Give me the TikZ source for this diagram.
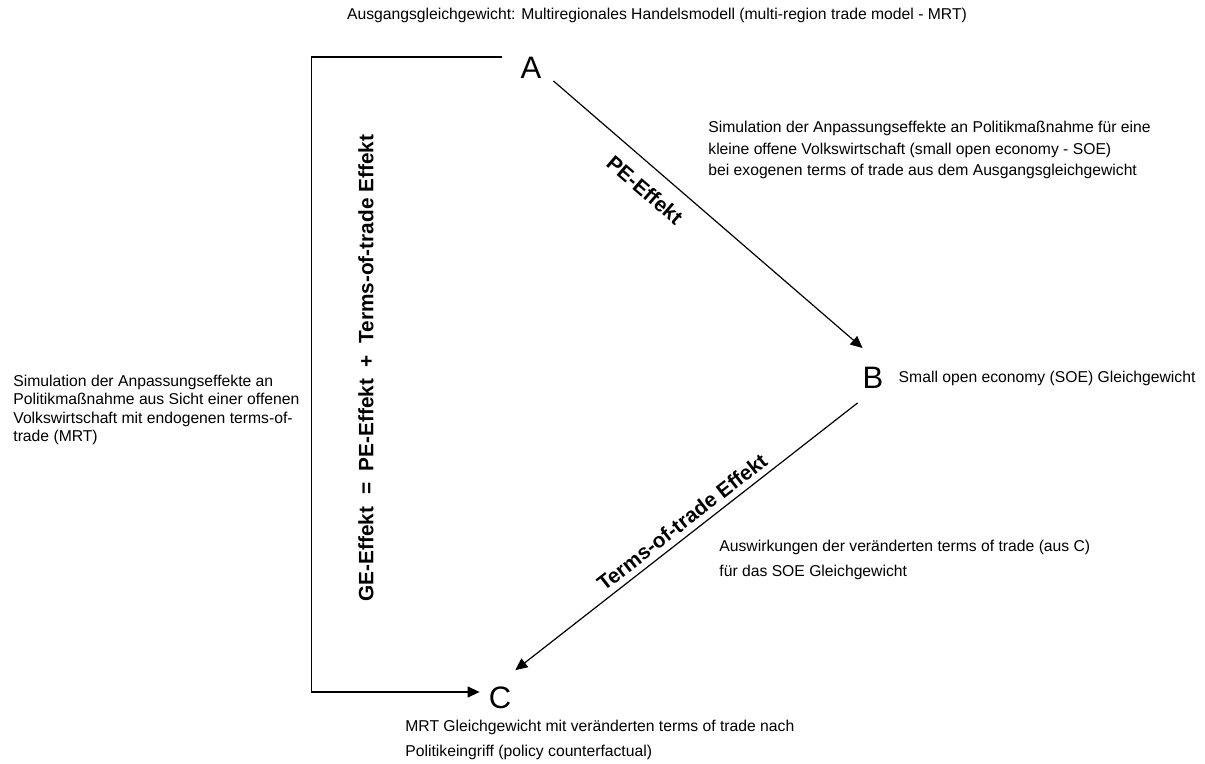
\documentclass[tikz,border=0pt]{standalone}
\usepackage{fontspec}
\setmainfont{Liberation Sans}
\usetikzlibrary{arrows.meta, positioning, calc}
\tikzset{
	letter/.style   ={inner sep=1.5pt, font=\fontsize{15.5}{18}\selectfont},
	note/.style     ={inner sep=0pt, align=left, anchor=west},
	effect/.style   ={inner sep=0pt, font=\fontsize{10.4}{12}\selectfont\bfseries},
	flowarrow/.style={-{Triangle[length=6pt, width=5.5pt]}, line width=0.6pt},
}

\begin{document}
\begin{tikzpicture}[x=0.5pt, y=-0.5pt]
	\useasboundingbox (0,0) rectangle (1205,764);
	% equilibria
	\node[letter] (A) at (531,68) {A};
	\node[letter] (B) at (873,378) {B};
	\node[letter] (C) at (500,698) {C};
	\node[font=\fontsize{7.85}{9.4}\selectfont, inner sep=0pt] (title) at (657,15) {Ausgangsgleichgewicht: Multiregionales Handelsmodell (multi-region trade model - MRT)};
	\node[note, font=\fontsize{7.85}{9.4}\selectfont, right=5.8pt of B] (Bnote) {Small open economy (SOE) Gleichgewicht};
	\node[note, font=\fontsize{7.85}{10.9}\selectfont] (simSOE) at (708,150) {Simulation der Anpassungseffekte an Politikma\ss nahme f\"ur eine\\kleine offene Volkswirtschaft (small open economy - SOE)\\bei exogenen terms of trade aus dem Ausgangsgleichgewicht};
	\node[note, font=\fontsize{7.85}{9.25}\selectfont] (simMRT) at (13,410) {Simulation der Anpassungseffekte an\\Politikma\ss nahme aus Sicht einer offenen\\Volkswirtschaft mit endogenen terms-of-\\trade (MRT)};
	\node[note, font=\fontsize{7.85}{12.5}\selectfont] (totNote) at (719,560) {Auswirkungen der ver\"anderten terms of trade (aus C)\\f\"ur das SOE Gleichgewicht};
	\node[note, font=\fontsize{7.85}{12.5}\selectfont] (Cnote) at (405,740) {MRT Gleichgewicht mit ver\"anderten terms of trade nach\\Politikeingriff (policy counterfactual)};
	% effects
	\node[effect, rotate=90] (GE) at (366,368) {GE-Effekt\ \ =\ \ PE-Effekt\ \ +\ \ Terms-of-trade Effekt};
	\node[effect, rotate=-40.7] (PE) at (645,190) {PE-Effekt};
	\node[effect, rotate=37.9] (ToT) at (682,522) {Terms-of-trade Effekt};
	% connectors
	\draw[flowarrow] ([xshift=4.35pt,yshift=0.55pt]A.south east) -- ([xshift=1.65pt,yshift=7.95pt]B.north west);
	\draw[flowarrow] ([xshift=-0.85pt,yshift=-5.45pt]B.south west) -- ([xshift=0.4pt,yshift=6.75pt]C.north east);
	\draw[flowarrow] ([xshift=-7.85pt,yshift=-1.5pt]A.north west) -- ++(-190,0) |- ([xshift=-2.9pt,yshift=3pt]C.west);
\end{tikzpicture}
\end{document}
